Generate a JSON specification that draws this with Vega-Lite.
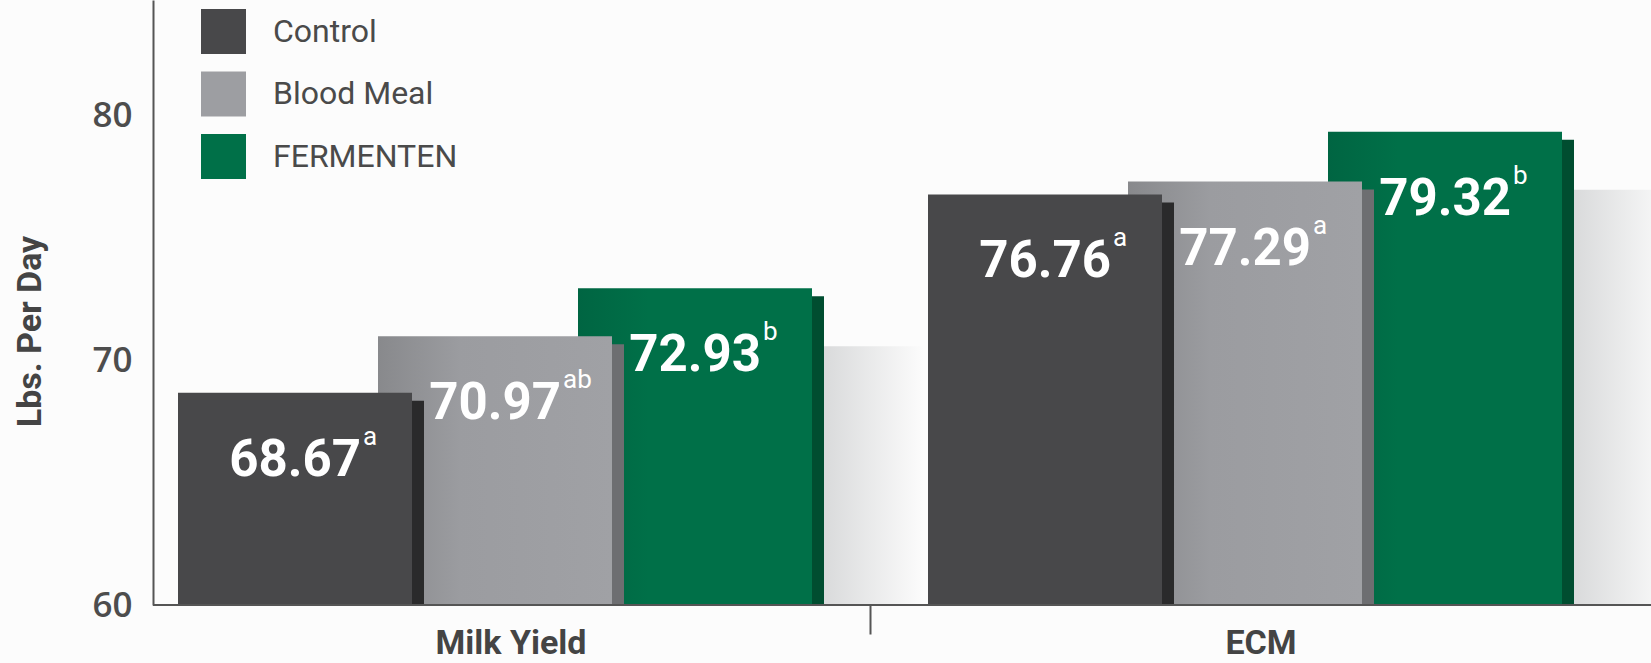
{
  "$schema": "https://vega.github.io/schema/vega-lite/v6.json",
  "width": 1498,
  "height": 605,
  "autosize": {"type": "none"},
  "padding": {"left": 153, "top": 0, "right": 0, "bottom": 58},
  "background": "#FCFCFC",
  "config": {"view": {"stroke": null}, "font": "Roboto"},
  "data": {
    "values": [
      {"metric": "Milk Yield", "treatment": "Control", "value": 68.67, "sup": "a"},
      {"metric": "Milk Yield", "treatment": "Blood Meal", "value": 70.97, "sup": "ab"},
      {"metric": "Milk Yield", "treatment": "FERMENTEN", "value": 72.93, "sup": "b"},
      {"metric": "ECM", "treatment": "Control", "value": 76.76, "sup": "a"},
      {"metric": "ECM", "treatment": "Blood Meal", "value": 77.29, "sup": "a"},
      {"metric": "ECM", "treatment": "FERMENTEN", "value": 79.32, "sup": "b"}
    ]
  },
  "resolve": {"axis": {"x": "independent"}, "scale": {"xOffset": "independent"}},
  "layer": [
    {
      "transform": [{"filter": "datum.treatment === 'FERMENTEN'"}],
      "mark": {"type": "bar", "width": 458, "yOffset": 58, "clip": true, "color": {"gradient": "linear", "x1": 0, "y1": 0, "x2": 1, "y2": 0, "stops": [{"offset": 0, "color": "#D9DADB"}, {"offset": 0.78, "color": "#D9DADB"}, {"offset": 1, "color": "#FCFCFC"}]}},
      "encoding": {
        "x": {"field": "metric", "type": "nominal", "sort": ["Milk Yield", "ECM"], "scale": {"range": [-33, 1467], "paddingInner": 0, "paddingOuter": 0}, "axis": null},
        "xOffset": {"field": "treatment", "type": "nominal", "scale": {"type": "band", "domain": ["Control", "Blood Meal", "FERMENTEN"], "paddingInner": 0, "paddingOuter": 0.375, "align": 0.5}},
        "y": {
          "field": "value", "type": "quantitative",
          "scale": {"domain": [60, 84.7], "nice": false, "zero": false},
          "axis": {
            "values": [60, 70, 80], "ticks": false, "grid": false,
            "domain": true, "domainColor": "#555555", "domainWidth": 2,
            "labelFont": "Open Sans", "labelFontSize": 35, "labelFontWeight": 600, "labelColor": "#4D4D4D", "labelPadding": 21,
            "title": "Lbs. Per Day", "titleFont": "Roboto", "titleFontSize": 34, "titleFontWeight": "bold", "titleColor": "#444444",
            "titleX": -113, "titleY": 331, "titleAngle": 270, "titleBaseline": "alphabetic", "titleAlign": "center"
          }
        },
        "y2": {"datum": 60}
      }
    },
    {
      "transform": [{"filter": "datum.treatment === 'FERMENTEN'"}],
      "mark": {"type": "bar", "width": 234, "yOffset": 8, "clip": true, "color": "#004D30"},
      "encoding": {
        "x": {"field": "metric", "type": "nominal", "sort": ["Milk Yield", "ECM"], "axis": null},
        "xOffset": {"field": "treatment", "type": "nominal", "scale": {"type": "band", "domain": ["Control", "Blood Meal", "FERMENTEN"], "paddingInner": 0, "paddingOuter": 0.375, "align": 0.58}},
        "y": {"field": "value", "type": "quantitative"},
        "y2": {"datum": 60}
      }
    },
    {
      "transform": [{"filter": "datum.treatment === 'FERMENTEN'"}],
      "mark": {"type": "bar", "width": 234, "color": {"gradient": "linear", "x1": 0, "y1": 0, "x2": 1, "y2": 0, "stops": [{"offset": 0, "color": "#006542"}, {"offset": 0.3, "color": "#007048"}, {"offset": 1, "color": "#007048"}]}},
      "encoding": {
        "x": {"field": "metric", "type": "nominal", "sort": ["Milk Yield", "ECM"], "axis": null},
        "xOffset": {"field": "treatment", "type": "nominal", "scale": {"type": "band", "domain": ["Control", "Blood Meal", "FERMENTEN"], "paddingInner": 0, "paddingOuter": 0.375, "align": 0.5}},
        "y": {"field": "value", "type": "quantitative"},
        "y2": {"datum": 60}
      }
    },
    {
      "transform": [{"filter": "datum.treatment === 'Blood Meal'"}],
      "mark": {"type": "bar", "width": 234, "yOffset": 8, "clip": true, "color": "#6D6E71"},
      "encoding": {
        "x": {"field": "metric", "type": "nominal", "sort": ["Milk Yield", "ECM"], "axis": null},
        "xOffset": {"field": "treatment", "type": "nominal", "scale": {"type": "band", "domain": ["Control", "Blood Meal", "FERMENTEN"], "paddingInner": 0, "paddingOuter": 0.375, "align": 0.58}},
        "y": {"field": "value", "type": "quantitative"},
        "y2": {"datum": 60}
      }
    },
    {
      "transform": [{"filter": "datum.treatment === 'Blood Meal'"}],
      "mark": {"type": "bar", "width": 234, "color": {"gradient": "linear", "x1": 0, "y1": 0, "x2": 1, "y2": 0, "stops": [{"offset": 0, "color": "#88898C"}, {"offset": 0.35, "color": "#9B9CA0"}, {"offset": 1, "color": "#A0A1A5"}]}},
      "encoding": {
        "x": {"field": "metric", "type": "nominal", "sort": ["Milk Yield", "ECM"], "axis": null},
        "xOffset": {"field": "treatment", "type": "nominal", "scale": {"type": "band", "domain": ["Control", "Blood Meal", "FERMENTEN"], "paddingInner": 0, "paddingOuter": 0.375, "align": 0.5}},
        "y": {"field": "value", "type": "quantitative"},
        "y2": {"datum": 60}
      }
    },
    {
      "transform": [{"filter": "datum.treatment === 'Control'"}],
      "mark": {"type": "bar", "width": 234, "yOffset": 8, "clip": true, "color": "#2A2A2B"},
      "encoding": {
        "x": {"field": "metric", "type": "nominal", "sort": ["Milk Yield", "ECM"], "axis": null},
        "xOffset": {"field": "treatment", "type": "nominal", "scale": {"type": "band", "domain": ["Control", "Blood Meal", "FERMENTEN"], "paddingInner": 0, "paddingOuter": 0.375, "align": 0.58}},
        "y": {"field": "value", "type": "quantitative"},
        "y2": {"datum": 60}
      }
    },
    {
      "transform": [{"filter": "datum.treatment === 'Control'"}],
      "mark": {"type": "bar", "width": 234},
      "encoding": {
        "x": {"field": "metric", "type": "nominal", "sort": ["Milk Yield", "ECM"], "axis": null},
        "xOffset": {"field": "treatment", "type": "nominal", "scale": {"type": "band", "domain": ["Control", "Blood Meal", "FERMENTEN"], "paddingInner": 0, "paddingOuter": 0.375, "align": 0.5}},
        "y": {"field": "value", "type": "quantitative"},
        "y2": {"datum": 60},
        "color": {
          "field": "treatment", "type": "nominal",
          "scale": {"domain": ["Control", "Blood Meal", "FERMENTEN"], "range": ["#48484A", "#9D9EA2", "#007048"]},
          "legend": {
            "title": null, "orient": "none", "legendX": 48, "legendY": 9, "direction": "vertical",
            "symbolType": "square", "symbolSize": 2025, "symbolStrokeWidth": 0, "symbolOpacity": 1,
            "labelFont": "Roboto", "labelFontSize": 32, "labelColor": "#4A4A4A", "labelLimit": 0,
            "labelOffset": 27, "rowPadding": 17.5, "padding": 0
          }
        }
      }
    },
    {
      "mark": {"type": "text", "align": "right", "baseline": "alphabetic", "dx": 66, "dy": 83, "color": "white", "font": "Roboto", "fontWeight": "bold", "fontSize": 51},
      "encoding": {
        "x": {
          "field": "metric", "type": "nominal", "sort": ["Milk Yield", "ECM"],
          "axis": {"orient": "bottom", "title": null, "ticks": false, "domain": false, "labelAngle": 0,
            "labelFont": "Roboto", "labelFontSize": 34, "labelFontWeight": "bold", "labelColor": "#444444",
            "labelBaseline": "alphabetic", "labelPadding": 48, "labelOffset": 16}
        },
        "xOffset": {"field": "treatment", "type": "nominal", "scale": {"type": "band", "domain": ["Control", "Blood Meal", "FERMENTEN"], "paddingInner": 0, "paddingOuter": 0.375, "align": 0.5}},
        "y": {"field": "value", "type": "quantitative"},
        "text": {"field": "value", "type": "quantitative", "format": ".2f"}
      }
    },
    {
      "mark": {"type": "text", "align": "left", "baseline": "alphabetic", "dx": 68, "dy": 52, "color": "white", "font": "Roboto", "fontSize": 26},
      "encoding": {
        "x": {
          "field": "metric", "type": "nominal", "sort": ["Milk Yield", "ECM"],
          "axis": {"orient": "bottom", "title": null, "labels": false, "domain": false, "grid": false, "values": ["ECM"], "bandPosition": 0,
            "ticks": true, "tickSize": 29, "tickWidth": 2, "tickColor": "#555555"}
        },
        "xOffset": {"field": "treatment", "type": "nominal", "scale": {"type": "band", "domain": ["Control", "Blood Meal", "FERMENTEN"], "paddingInner": 0, "paddingOuter": 0.375, "align": 0.5}},
        "y": {"field": "value", "type": "quantitative"},
        "text": {"field": "sup", "type": "nominal"}
      }
    },
    {
      "data": {"values": [{"base": 60}]},
      "mark": {"type": "rule", "color": "#555555", "strokeWidth": 2},
      "encoding": {"y": {"field": "base", "type": "quantitative"}}
    }
  ]
}
